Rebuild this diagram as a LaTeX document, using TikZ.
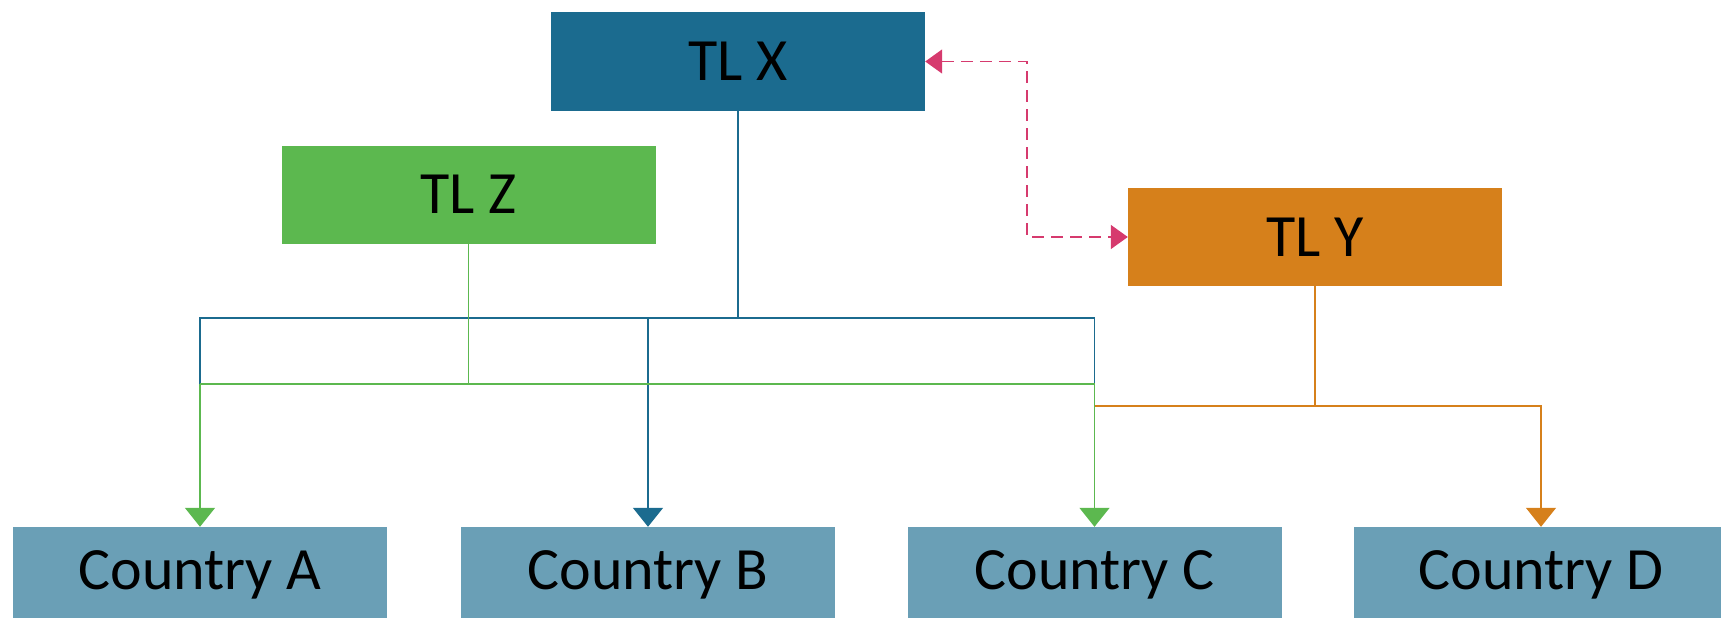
\documentclass[tikz,border=0pt]{standalone}
\usepackage{fontspec}
\setmainfont{Carlito}
\usetikzlibrary{arrows.meta}
\definecolor{cx}{HTML}{1B6B8F}
\definecolor{cz}{HTML}{5CB84F}
\definecolor{cy}{HTML}{D6801B}
\definecolor{cc}{HTML}{6A9FB6}
\definecolor{cp}{HTML}{D63A6E}
\begin{document}
\begin{tikzpicture}[x=1pt,y=-1pt,
  tlbox/.style={rectangle, inner sep=0pt, minimum width=374pt, minimum height=98pt, fill=#1, font=\fontsize{60}{64}\selectfont},
  ctry/.style={rectangle, inner sep=0pt, minimum width=374pt, minimum height=95pt, fill=cc, font=\fontsize{60}{64}\selectfont},
  conn/.style={line width=1.5pt, draw=#1},
  tip/.style={-{Triangle[length=19pt,width=30pt]}},
  dtip/.style={{Triangle[length=17pt,width=24pt]}-{Triangle[length=17pt,width=24pt]}, draw=cp, line width=1.5pt, dash pattern=on 12pt off 7pt}
]
\useasboundingbox (0,0) rectangle (1721,618);
\node[tlbox=cx] (X) at (738,61.5) {TL X};
\node[tlbox=cz] (Z) at (468.5,194.5) {TL Z};
\node[tlbox=cy] (Y) at (1315,237) {TL Y};
\node[ctry] (A) at (200,574.5) {Country A};
\node[ctry] (B) at (648,574.5) {Country B};
\node[ctry] (C) at (1094.5,574.5) {Country C};
\node[ctry] (D) at (1541,574.5) {Country D};

% bus coordinates
\coordinate (bl) at (200,318);
\coordinate (br) at (1094.5,318);
\coordinate (gl) at (200,384);
\coordinate (gr) at (1094.5,384);
\coordinate (ol) at (1094.5,406);
\coordinate (or) at (1541,406);
\coordinate (dc) at (1027,0);

% blue
\draw[conn=cx] (X.south) -- (X.south |- bl);
\draw[conn=cx] (gl) -- (bl) -- (br) -- (gr);
\draw[conn=cx, tip] (B.north |- bl) -- (B.north);
% green
\draw[conn=cz] (Z.south) -- (Z.south |- gl);
\draw[conn=cz] (gl) -- (gr);
\draw[conn=cz, tip] (gl) -- (A.north);
\draw[conn=cz, tip] (gr) -- (C.north);
% orange
\draw[conn=cy] (Y.south) -- (Y.south |- ol);
\draw[conn=cy, tip] (ol) -- (or) -- (D.north);
% dashed
\draw[dtip] (X.east) -- (X.east -| dc) |- (Y.west);
\end{tikzpicture}
\end{document}
